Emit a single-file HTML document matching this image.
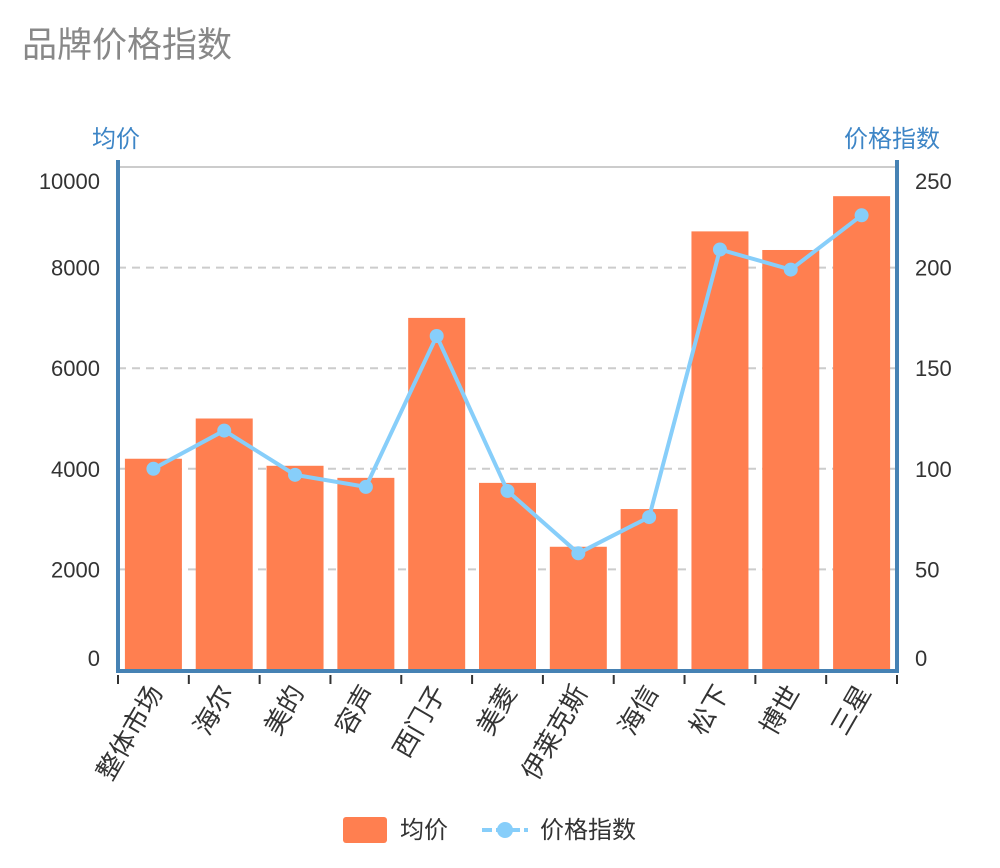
<!DOCTYPE html>
<html><head><meta charset="utf-8"><style>
body{margin:0;background:#fff;}
svg text{font-family:"Liberation Sans","Noto Sans CJK SC",sans-serif;}
</style></head><body>
<svg width="1000" height="863" xmlns="http://www.w3.org/2000/svg" id="chart">
<text x="22" y="57" font-size="35" fill="#888">品牌价格指数</text>
<text x="92" y="147" font-size="24" fill="#3d85c6">均价</text>
<text x="844" y="147" font-size="24" fill="#3d85c6">价格指数</text>
<g id="grid"></g><g id="bars"></g><g id="line"></g><g id="axes"></g>
<g>
<rect x="343" y="817" width="44" height="26" rx="3" fill="#ff7f50"/>
<text x="400" y="838" font-size="24" fill="#333">均价</text>
<line x1="482" y1="830" x2="528" y2="830" stroke="#87cefa" stroke-width="4" stroke-dasharray="10,4"/>
<circle cx="505" cy="830" r="8" fill="#87cefa"/>
<text x="540" y="838" font-size="24" fill="#333">价格指数</text>
</g>
</svg>
<script>
const categories=["整体市场","海尔","美的","容声","西门子","美菱","伊莱克斯","海信","松下","博世","三星"];
const avgPrice=[4200,5000,4060,3820,7000,3720,2450,3200,8720,8350,9420];
const priceIndex=[100,119,97,91,166,89,58,76,209,199,226];
const leftTicks=[0,2000,4000,6000,8000,10000];
const rightTicks=[0,50,100,150,200,250];
const NS="http://www.w3.org/2000/svg";
const X0=118,X1=897,Y0=670,YT=167;
const yL=v=>Y0-(v/10000)*(Y0-YT);
const yR=v=>Y0-(v/250)*(Y0-YT);
const bw=(X1-X0)/categories.length;
const xc=i=>X0+bw*(i+0.5);
function mk(tag,attrs,parent){const e=document.createElementNS(NS,tag);for(const k in attrs)e.setAttribute(k,attrs[k]);document.getElementById(parent).appendChild(e);return e;}
mk('line',{x1:X0,y1:YT,x2:X1,y2:YT,stroke:'#ccc','stroke-width':2},'grid');
leftTicks.forEach((t,i)=>{
  if(t>0&&t<10000){const g=mk('line',{x1:X0,y1:yL(t),x2:X1,y2:yL(t),stroke:'#ccc','stroke-width':2,'stroke-dasharray':'8,6'},'grid');
  
  }
  let y=yL(t)+8; if(t===10000)y+=14; if(t===0)y-=12;
  const tx=mk('text',{x:100,y:y,'text-anchor':'end','font-size':22,fill:'#333'},'axes');tx.textContent=t;
  
  
});
rightTicks.forEach(t=>{
  let y=yR(t)+8; if(t===250)y+=14; if(t===0)y-=12;
  const tx=mk('text',{x:915,y:y,'font-size':22,fill:'#333'},'axes');tx.textContent=t;
  
  
});
avgPrice.forEach((v,i)=>{
  const r=mk('rect',{x:xc(i)-28.5,y:yL(v),width:57,height:Y0-yL(v),fill:'#ff7f50'},'bars');
  
  
});
const pts=priceIndex.map((v,i)=>xc(i)+','+yR(v)).join(' ');
const pl=mk('polyline',{points:pts,fill:'none',stroke:'#87cefa','stroke-width':4},'line');


priceIndex.forEach((v,i)=>{
  const c=mk('circle',{cx:xc(i),cy:yR(v),r:7,fill:'#87cefa'},'line');
  
  
});
mk('line',{x1:X0,y1:Y0+1,x2:X1,y2:Y0+1,stroke:'#4682b4','stroke-width':4},'axes');
mk('line',{x1:X0,y1:160,x2:X0,y2:673,stroke:'#4682b4','stroke-width':4},'axes');
mk('line',{x1:X1,y1:160,x2:X1,y2:673,stroke:'#4682b4','stroke-width':4},'axes');
for(let i=0;i<=categories.length;i++){
  const x=X0+bw*i;
  mk('line',{x1:x,y1:675,x2:x,y2:684,stroke:'#333','stroke-width':2},'axes');
}
categories.forEach((c,i)=>{
  const x=xc(i)+10,y=692;
  const tx=mk('text',{x:x,y:y,'text-anchor':'end','font-size':26,fill:'#333',transform:`rotate(-60 ${x} ${y})`},'axes');
  tx.textContent=c;
  
  
});
</script>
</body></html>
